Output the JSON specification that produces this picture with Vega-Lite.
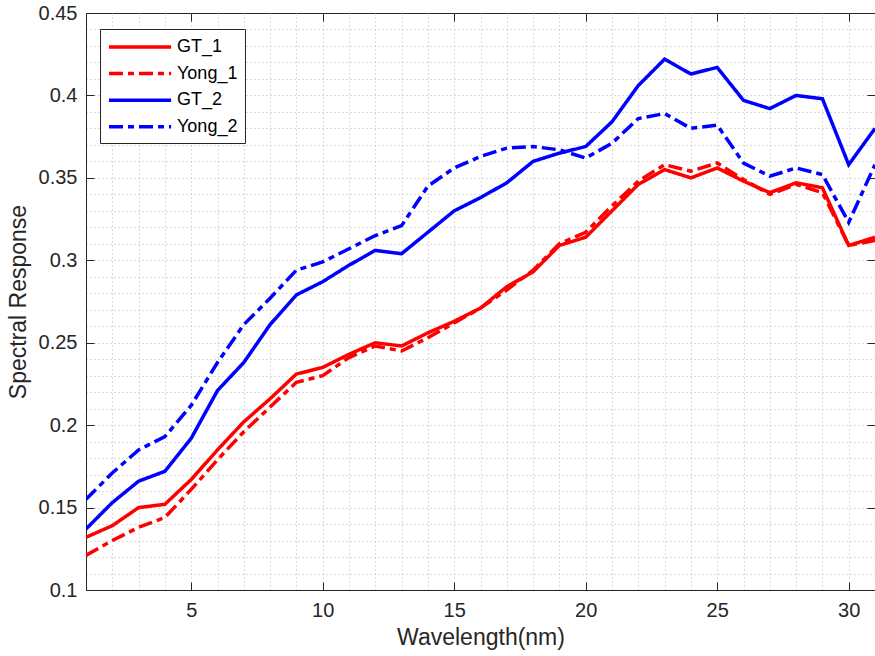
{
  "$schema": "https://vega.github.io/schema/vega-lite/v6.json",
  "width": 789,
  "height": 577,
  "autosize": "none",
  "padding": {"left": 86, "top": 13, "right": 0, "bottom": 66},
  "background": "white",
  "config": {
    "view": {"stroke": "#262626", "strokeWidth": 1},
    "font": "Liberation Sans"
  },
  "data": {
    "values": [
      {"wl": 1, "GT_1": 0.132, "Yong_1": 0.121, "GT_2": 0.137, "Yong_2": 0.155},
      {"wl": 2, "GT_1": 0.139, "Yong_1": 0.130, "GT_2": 0.153, "Yong_2": 0.171},
      {"wl": 3, "GT_1": 0.150, "Yong_1": 0.138, "GT_2": 0.166, "Yong_2": 0.185},
      {"wl": 4, "GT_1": 0.152, "Yong_1": 0.144, "GT_2": 0.172, "Yong_2": 0.193},
      {"wl": 5, "GT_1": 0.167, "Yong_1": 0.161, "GT_2": 0.192, "Yong_2": 0.212},
      {"wl": 6, "GT_1": 0.185, "Yong_1": 0.179, "GT_2": 0.221, "Yong_2": 0.238},
      {"wl": 7, "GT_1": 0.202, "Yong_1": 0.196, "GT_2": 0.238, "Yong_2": 0.261},
      {"wl": 8, "GT_1": 0.216, "Yong_1": 0.211, "GT_2": 0.261, "Yong_2": 0.277},
      {"wl": 9, "GT_1": 0.231, "Yong_1": 0.226, "GT_2": 0.279, "Yong_2": 0.294},
      {"wl": 10, "GT_1": 0.235, "Yong_1": 0.230, "GT_2": 0.287, "Yong_2": 0.299},
      {"wl": 11, "GT_1": 0.243, "Yong_1": 0.241, "GT_2": 0.297, "Yong_2": 0.307},
      {"wl": 12, "GT_1": 0.250, "Yong_1": 0.248, "GT_2": 0.306, "Yong_2": 0.315},
      {"wl": 13, "GT_1": 0.248, "Yong_1": 0.245, "GT_2": 0.304, "Yong_2": 0.321},
      {"wl": 14, "GT_1": 0.256, "Yong_1": 0.253, "GT_2": 0.317, "Yong_2": 0.345},
      {"wl": 15, "GT_1": 0.263, "Yong_1": 0.262, "GT_2": 0.330, "Yong_2": 0.356},
      {"wl": 16, "GT_1": 0.271, "Yong_1": 0.271, "GT_2": 0.338, "Yong_2": 0.363},
      {"wl": 17, "GT_1": 0.284, "Yong_1": 0.282, "GT_2": 0.347, "Yong_2": 0.368},
      {"wl": 18, "GT_1": 0.293, "Yong_1": 0.294, "GT_2": 0.360, "Yong_2": 0.369},
      {"wl": 19, "GT_1": 0.309, "Yong_1": 0.310, "GT_2": 0.365, "Yong_2": 0.367},
      {"wl": 20, "GT_1": 0.314, "Yong_1": 0.317, "GT_2": 0.369, "Yong_2": 0.362},
      {"wl": 21, "GT_1": 0.330, "Yong_1": 0.333, "GT_2": 0.384, "Yong_2": 0.371},
      {"wl": 22, "GT_1": 0.346, "Yong_1": 0.348, "GT_2": 0.406, "Yong_2": 0.386},
      {"wl": 23, "GT_1": 0.355, "Yong_1": 0.358, "GT_2": 0.422, "Yong_2": 0.389},
      {"wl": 24, "GT_1": 0.350, "Yong_1": 0.354, "GT_2": 0.413, "Yong_2": 0.380},
      {"wl": 25, "GT_1": 0.356, "Yong_1": 0.359, "GT_2": 0.417, "Yong_2": 0.382},
      {"wl": 26, "GT_1": 0.348, "Yong_1": 0.349, "GT_2": 0.397, "Yong_2": 0.359},
      {"wl": 27, "GT_1": 0.341, "Yong_1": 0.340, "GT_2": 0.392, "Yong_2": 0.351},
      {"wl": 28, "GT_1": 0.347, "Yong_1": 0.346, "GT_2": 0.400, "Yong_2": 0.356},
      {"wl": 29, "GT_1": 0.344, "Yong_1": 0.341, "GT_2": 0.398, "Yong_2": 0.352},
      {"wl": 30, "GT_1": 0.309, "Yong_1": 0.309, "GT_2": 0.358, "Yong_2": 0.323},
      {"wl": 31, "GT_1": 0.314, "Yong_1": 0.312, "GT_2": 0.380, "Yong_2": 0.358}
    ]
  },
  "transform": [
    {"fold": ["GT_1", "Yong_1", "GT_2", "Yong_2"], "as": ["series", "value"]}
  ],
  "resolve": {"axis": {"x": "independent", "y": "independent"}},
  "layer": [
    {
      "mark": {"type": "line", "strokeWidth": 3.5, "clip": true},
      "encoding": {
        "x": {
          "field": "wl",
          "type": "quantitative",
          "scale": {"domain": [1, 31], "nice": false, "zero": false},
          "axis": {
            "title": "Wavelength(nm)",
            "values": [1,2,3,4,5,6,7,8,9,10,11,12,13,14,15,16,17,18,19,20,21,22,23,24,25,26,27,28,29,30,31],
            "labelExpr": "datum.value % 5 === 0 ? datum.label : ''",
            "labelFontSize": 20,
            "labelColor": "#262626",
            "labelPadding": 18,
            "labelFlush": false,
            "tickSize": -8,
            "tickColor": "#262626",
            "tickOpacity": {"condition": {"test": "datum.value % 5 === 0", "value": 1}, "value": 0},
            "domainColor": "#262626",
            "grid": true,
            "gridDash": [1, 3],
            "gridColor": "#b8b8b8",
            "gridOpacity": {"condition": {"test": "datum.value > 1 && datum.value < 31", "value": 1}, "value": 0},
            "titleFontSize": 23,
            "titleFontWeight": "normal",
            "titleColor": "#262626",
            "titlePadding": 6
          }
        },
        "y": {
          "field": "value",
          "type": "quantitative",
          "scale": {"domain": [0.1, 0.45], "nice": false, "zero": false},
          "axis": {
            "title": "Spectral Response",
            "values": [0.1,0.11,0.12,0.13,0.14,0.15,0.16,0.17,0.18,0.19,0.2,0.21,0.22,0.23,0.24,0.25,0.26,0.27,0.28,0.29,0.3,0.31,0.32,0.33,0.34,0.35,0.36,0.37,0.38,0.39,0.4,0.41,0.42,0.43,0.44,0.45],
            "labelExpr": "round(datum.value * 100) % 5 === 0 ? format(datum.value, '~g') : ''",
            "labelFontSize": 20,
            "labelColor": "#262626",
            "labelPadding": 17,
            "labelFlush": false,
            "tickSize": -8,
            "tickColor": "#262626",
            "tickOpacity": {"condition": {"test": "round(datum.value * 100) % 5 === 0", "value": 1}, "value": 0},
            "domainColor": "#262626",
            "grid": true,
            "gridDash": [1, 3],
            "gridColor": "#b8b8b8",
            "gridOpacity": {"condition": {"test": "datum.value > 0.105 && datum.value < 0.445", "value": 1}, "value": 0},
            "titleFontSize": 23,
            "titleFontWeight": "normal",
            "titleColor": "#262626",
            "titlePadding": 8
          }
        },
        "color": {
          "field": "series",
          "type": "nominal",
          "scale": {
            "domain": ["GT_1", "Yong_1", "GT_2", "Yong_2"],
            "range": ["#ff0000", "#ff0000", "#0000ff", "#0000ff"]
          },
          "legend": {
            "title": null,
            "orient": "none",
            "legendX": 14,
            "legendY": 16,
            "fillColor": "white",
            "strokeColor": "#262626",
            "padding": 7,
            "symbolType": "M-1,0H5.9",
            "symbolSize": 324,
            "symbolStrokeWidth": 3.5,
            "labelFontSize": 18,
            "labelColor": "black",
            "labelOffset": 48,
            "rowPadding": 6.6
          }
        },
        "strokeDash": {
          "field": "series",
          "type": "nominal",
          "scale": {
            "domain": ["GT_1", "Yong_1", "GT_2", "Yong_2"],
            "range": [[1, 0], [14, 5, 6, 5], [1, 0], [14, 5, 6, 5]]
          },
          "legend": {
            "title": null,
            "orient": "none",
            "legendX": 14,
            "legendY": 16
          }
        }
      }
    },
    {
      "mark": {"type": "line", "opacity": 0},
      "encoding": {
        "x": {
          "field": "wl",
          "type": "quantitative",
          "axis": {
            "orient": "top",
            "title": null,
            "values": [5, 10, 15, 20, 25, 30],
            "labels": false,
            "grid": false,
            "domain": false,
            "tickSize": -8,
            "tickColor": "#262626"
          }
        },
        "y": {
          "field": "value",
          "type": "quantitative",
          "axis": {
            "orient": "right",
            "title": null,
            "values": [0.1, 0.15, 0.2, 0.25, 0.3, 0.35, 0.4, 0.45],
            "labels": false,
            "grid": false,
            "domain": false,
            "tickSize": -8,
            "tickColor": "#262626"
          }
        },
        "detail": {"field": "series", "type": "nominal"}
      }
    }
  ]
}
